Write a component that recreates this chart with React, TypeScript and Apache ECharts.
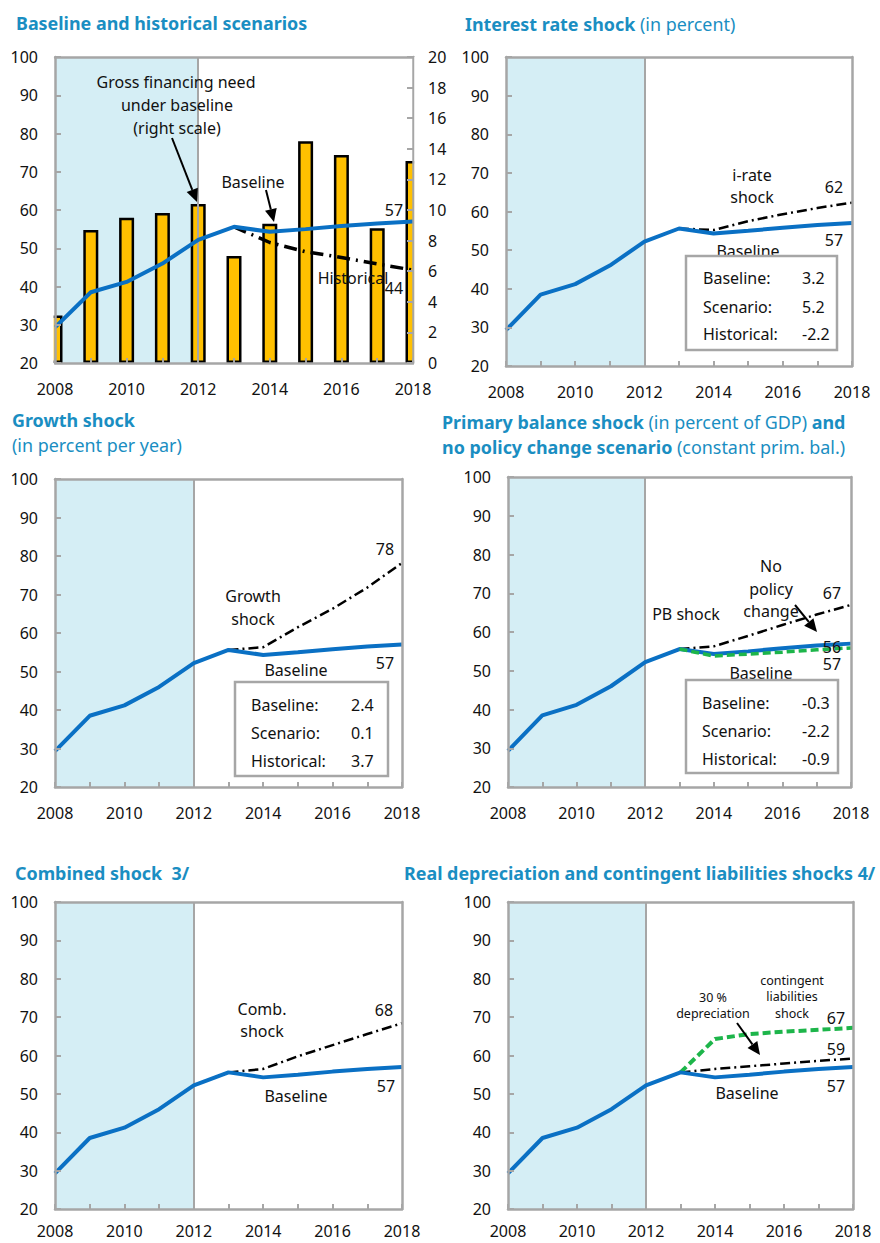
import React, { useEffect, useRef } from "react";
import * as echarts from "echarts";

const YEARS = [2008, 2009, 2010, 2011, 2012, 2013, 2014, 2015, 2016, 2017, 2018];
const PROJ_YEARS = [2013, 2014, 2015, 2016, 2017, 2018];
const X_TICKS = [2008, 2010, 2012, 2014, 2016, 2018];

const baseline = [29.3, 38.5, 41.2, 46.0, 52.2, 55.6, 54.3, 55.0, 55.8, 56.5, 57.0];
const grossFinancingNeed = [3.1, 8.7, 9.5, 9.8, 10.4, 7.0, 9.1, 14.5, 13.6, 8.8, 13.2];
const historical = [55.6, 51.5, 49.1, 47.6, 45.9, 44.3];
const iRateShock = [55.6, 55.2, 57.5, 59.3, 60.9, 62.3];
const growthShock = [55.6, 56.3, 61.5, 66.3, 71.8, 78.2];
const pbShock = [55.6, 56.3, 59.0, 61.8, 64.5, 67.0];
const noPolicyChange = [55.6, 53.8, 54.3, 54.8, 55.4, 55.9];
const combinedShock = [55.6, 56.5, 59.8, 62.7, 65.6, 68.4];
const depreciationShock = [55.6, 56.5, 57.2, 57.9, 58.6, 59.2];
const contingentShock = [55.6, 64.3, 65.6, 66.2, 66.7, 67.2];

const statLabels = ["Baseline:", "Scenario:", "Historical:"];
const iRateStats = ["3.2", "5.2", "-2.2"];
const growthStats = ["2.4", "0.1", "3.7"];
const pbStats = ["-0.3", "-2.2", "-0.9"];

const FONT = '"Noto Sans", "Open Sans", sans-serif';
const GREY = "#a6a6a6";
const TITLE = "#1a8ec2";
const BLUE = "#0a70c4";
const GREEN = "#1db54a";
const SHADE = "#d5eef5";
const TITLE_SIZE = 17.9;

const GRIDS = [
  { left: 55, top: 57, width: 358, height: 306 },
  { left: 506, top: 57, width: 346, height: 309 },
  { left: 55, top: 479, width: 347, height: 308 },
  { left: 508, top: 477, width: 343, height: 310 },
  { left: 55, top: 902, width: 347, height: 307 },
  { left: 508, top: 902, width: 345, height: 307 },
];

const pairs = (xs: number[], ys: number[]) => xs.map((x, i) => [x, ys[i]]);

function txt(x: number, y: number, text: string, extra: any = {}) {
  return {
    type: "text",
    x,
    y,
    z: 100,
    style: {
      text,
      fill: "#111",
      fontSize: 16,
      fontFamily: FONT,
      textAlign: "center",
      textVerticalAlign: "middle",
      align: "center",
      verticalAlign: "middle",
      ...extra,
    },
  };
}

function title(x: number, y: number, text: string) {
  return {
    type: "text",
    x,
    y,
    z: 100,
    style: {
      text,
      fill: TITLE,
      fontSize: TITLE_SIZE,
      fontFamily: FONT,
      textAlign: "left",
      textVerticalAlign: "middle",
      align: "left",
      verticalAlign: "middle",
      rich: {
        b: { fontWeight: "bold", fontSize: TITLE_SIZE, fontFamily: FONT, fill: TITLE, color: TITLE },
        n: { fontWeight: "normal", fontSize: TITLE_SIZE, fontFamily: FONT, fill: TITLE, color: TITLE },
      },
    },
  };
}

function arrow(x1: number, y1: number, x2: number, y2: number) {
  const dx = x2 - x1;
  const dy = y2 - y1;
  const len = Math.sqrt(dx * dx + dy * dy);
  const ux = dx / len;
  const uy = dy / len;
  const hl = 13;
  const hw = 6;
  const bx = x2 - ux * hl;
  const by = y2 - uy * hl;
  return [
    {
      type: "line",
      z: 100,
      shape: { x1, y1, x2: bx, y2: by },
      style: { stroke: "#000", lineWidth: 2 },
    },
    {
      type: "polygon",
      z: 100,
      shape: {
        points: [
          [x2, y2],
          [bx - uy * hw, by + ux * hw],
          [bx + uy * hw, by - ux * hw],
        ],
      },
      style: { fill: "#000" },
    },
  ];
}

function statBox(x: number, y: number, w: number, h: number, labelX: number, valueX: number, rowYs: number[], values: string[]) {
  const els: any[] = [
    {
      type: "rect",
      z: 101,
      shape: { x, y, width: w, height: h },
      style: { fill: "#fff", stroke: GREY, lineWidth: 2.5 },
    },
  ];
  statLabels.forEach((l, i) => {
    els.push({ ...txt(labelX, rowYs[i], l, { textAlign: "left", align: "left" }), z: 102 });
    els.push({ ...txt(valueX, rowYs[i], values[i], { textAlign: "left", align: "left" }), z: 102 });
  });
  return els;
}

function buildOption() {
  const xAxis: any[] = [];
  const yAxis: any[] = [];
  const series: any[] = [];

  GRIDS.forEach((_, i) => {
    xAxis.push({
      type: "value",
      gridIndex: i,
      min: 2008,
      max: 2018,
      interval: 1,
      z: 10,
      axisLine: { show: true, onZero: false, lineStyle: { color: GREY, width: 2.5 } },
      axisTick: { show: true, inside: true, length: 5, lineStyle: { color: GREY, width: 2 } },
      axisLabel: {
        show: true,
        margin: i >= 4 ? 14 : 18,
        fontSize: 16,
        fontFamily: FONT,
        color: "#111",
        formatter: (v: number) => (X_TICKS.indexOf(v) >= 0 ? String(v) : ""),
      },
      splitLine: { show: false },
    });
    xAxis.push({
      type: "value",
      gridIndex: i,
      position: "top",
      min: 2008,
      max: 2018,
      z: 10,
      axisLine: { show: true, onZero: false, lineStyle: { color: GREY, width: 2.5 } },
      axisTick: { show: false },
      axisLabel: { show: false },
      splitLine: { show: false },
    });
    yAxis.push({
      type: "value",
      gridIndex: i,
      min: 20,
      max: 100,
      interval: 10,
      z: 10,
      axisLine: { show: true, onZero: false, lineStyle: { color: GREY, width: 2.5 } },
      axisTick: { show: true, inside: true, length: 6, lineStyle: { color: GREY, width: 2 } },
      axisLabel: { margin: 17, fontSize: 16, fontFamily: FONT, color: "#111" },
      splitLine: { show: false },
    });
    if (i === 0) {
      yAxis.push({
        type: "value",
        gridIndex: i,
        position: "right",
        min: 0,
        max: 20,
        interval: 2,
        z: 10,
        axisLine: { show: true, onZero: false, lineStyle: { color: GREY, width: 2.5 } },
        axisTick: { show: true, inside: true, length: 6, lineStyle: { color: GREY, width: 2 } },
        axisLabel: { margin: 15, fontSize: 16, fontFamily: FONT, color: "#111" },
        splitLine: { show: false },
      });
    } else {
      yAxis.push({
        type: "value",
        gridIndex: i,
        position: "right",
        min: 20,
        max: 100,
        z: 10,
        axisLine: { show: true, onZero: false, lineStyle: { color: GREY, width: 2.5 } },
        axisTick: { show: false },
        axisLabel: { show: false },
        splitLine: { show: false },
      });
    }

    // shaded historical period + 2012 divider
    series.push({
      type: "line",
      xAxisIndex: 2 * i,
      yAxisIndex: 2 * i,
      data: [[2008, 20]],
      symbol: "none",
      silent: true,
      z: 1,
      lineStyle: { width: 0 },
      markArea: {
        silent: true,
        itemStyle: { color: SHADE },
        data: [[{ xAxis: 2008 }, { xAxis: 2012 }]],
      },
      markLine: {
        silent: true,
        symbol: "none",
        label: { show: false },
        lineStyle: { color: GREY, width: 2, type: "solid" },
        data: [{ xAxis: 2012 }],
      },
    });
  });

  const line = (i: number, data: number[][], style: any, z = 5) => ({
    type: "line",
    xAxisIndex: 2 * i,
    yAxisIndex: 2 * i,
    data,
    symbol: "none",
    z,
    lineStyle: style,
  });

  const blueStyle = { color: BLUE, width: 4 };
  const dashDot = { color: "#000", width: 2.5, type: [10, 4, 2, 4] };
  const greenDash = { color: GREEN, width: 4, type: [8, 4] };

  // Panel 0: bars (right scale)
  series.push({
    type: "bar",
    xAxisIndex: 0,
    yAxisIndex: 1,
    data: pairs(YEARS, grossFinancingNeed),
    barWidth: 15,
    clip: true,
    z: 3,
    itemStyle: { color: "#ffc000", borderColor: "#000", borderWidth: 2.5 },
  });
  series.push(line(0, pairs(PROJ_YEARS, historical), { color: "#000", width: 3.5, type: [13, 6, 2, 6] }, 4));
  series.push(line(0, pairs(YEARS, baseline), blueStyle, 6));

  series.push(line(1, pairs(PROJ_YEARS, iRateShock), dashDot));
  series.push(line(1, pairs(YEARS, baseline), blueStyle, 6));

  series.push(line(2, pairs(PROJ_YEARS, growthShock), dashDot));
  series.push(line(2, pairs(YEARS, baseline), blueStyle, 6));

  series.push(line(3, pairs(PROJ_YEARS, pbShock), dashDot));
  series.push(line(3, pairs(YEARS, baseline), blueStyle, 6));
  series.push(line(3, pairs(PROJ_YEARS, noPolicyChange), { ...greenDash, width: 3.5 }, 7));

  series.push(line(4, pairs(PROJ_YEARS, combinedShock), dashDot));
  series.push(line(4, pairs(YEARS, baseline), blueStyle, 6));

  series.push(line(5, pairs(PROJ_YEARS, depreciationShock), dashDot));
  series.push(line(5, pairs(PROJ_YEARS, contingentShock), greenDash));
  series.push(line(5, pairs(YEARS, baseline), blueStyle, 6));

  const g0 = GRIDS[0];
  const graphics: any[] = [
    // mask the halves of the edge bars that fall outside the first plot area
    {
      type: "rect",
      z: 50,
      shape: { x: g0.left - 12, y: g0.top, width: 10.7, height: g0.height + 3 },
      style: { fill: "#fff" },
    },
    {
      type: "rect",
      z: 50,
      shape: { x: g0.left + g0.width + 1.3, y: g0.top, width: 10, height: g0.height + 3 },
      style: { fill: "#fff" },
    },

    // titles
    title(16, 23, "{b|Baseline and historical scenarios}"),
    title(465, 24, "{b|Interest rate shock} {n|(in percent)}"),
    title(12, 420, "{b|Growth shock}"),
    title(12, 445, "{n|(in percent per year)}"),
    title(442, 422, "{b|Primary balance shock} {n|(in percent of GDP)} {b|and}"),
    title(442, 447, "{b|no policy change scenario} {n|(constant prim. bal.)}"),
    title(15, 873, "{b|Combined shock  3/}"),
    title(404, 873, "{b|Real depreciation and contingent liabilities shocks 4/}"),

    // panel 0
    txt(176, 82, "Gross financing need"),
    txt(177, 105, "under baseline"),
    txt(177, 128, "(right scale)"),
    ...arrow(172, 138, 197, 202),
    txt(253, 182, "Baseline"),
    ...arrow(266, 190, 274, 222),
    txt(394, 210, "57"),
    txt(353, 278, "Historical"),
    txt(394, 288, "44"),

    // panel 1
    txt(752, 175, "i-rate"),
    txt(752, 197, "shock"),
    txt(834, 187, "62"),
    txt(834, 240, "57"),
    txt(748, 251, "Baseline"),
    ...statBox(686, 256, 151, 94, 703, 802, [278, 307, 334], iRateStats),

    // panel 2
    txt(253, 596, "Growth"),
    txt(253, 619, "shock"),
    txt(385, 549, "78"),
    txt(385, 663, "57"),
    txt(296, 670, "Baseline"),
    ...statBox(235, 682, 153, 94, 251, 351, [705, 733, 761], growthStats),

    // panel 3
    txt(686, 614, "PB shock"),
    txt(771, 566, "No"),
    txt(771, 589, "policy"),
    txt(771, 611, "change"),
    ...arrow(795, 605, 817, 632),
    txt(832, 593, "67"),
    txt(832, 647, "56"),
    txt(832, 664, "57"),
    txt(761, 673, "Baseline"),
    ...statBox(686, 680, 152, 93, 702, 802, [703, 731, 759], pbStats),

    // panel 4
    txt(262, 1009, "Comb."),
    txt(262, 1031, "shock"),
    txt(384, 1010, "68"),
    txt(296, 1096, "Baseline"),
    txt(386, 1086, "57"),

    // panel 5
    txt(792, 980, "contingent", { fontSize: 12.5 }),
    txt(792, 996, "liabilities", { fontSize: 12.5 }),
    txt(792, 1013, "shock", { fontSize: 12.5 }),
    txt(713, 997, "30 %", { fontSize: 12.5 }),
    txt(713, 1013, "depreciation", { fontSize: 12.5 }),
    ...arrow(737, 1023, 760, 1055),
    txt(836, 1018, "67"),
    txt(836, 1049, "59"),
    txt(747, 1093, "Baseline"),
    txt(836, 1086, "57"),
  ];

  return {
    animation: false,
    backgroundColor: "#fff",
    grid: GRIDS.map((g) => ({ ...g, containLabel: false })),
    xAxis,
    yAxis,
    series,
    graphic: { elements: graphics },
  };
}

export default function App() {
  const ref = useRef<HTMLDivElement>(null);
  useEffect(() => {
    document.body.style.margin = "0";
    if (!ref.current) return;
    const chart = echarts.init(ref.current, undefined, { renderer: "svg" });
    chart.setOption(buildOption() as any);
    return () => chart.dispose();
  }, []);
  return <div ref={ref} style={{ width: 880, height: 1243 }} />;
}
